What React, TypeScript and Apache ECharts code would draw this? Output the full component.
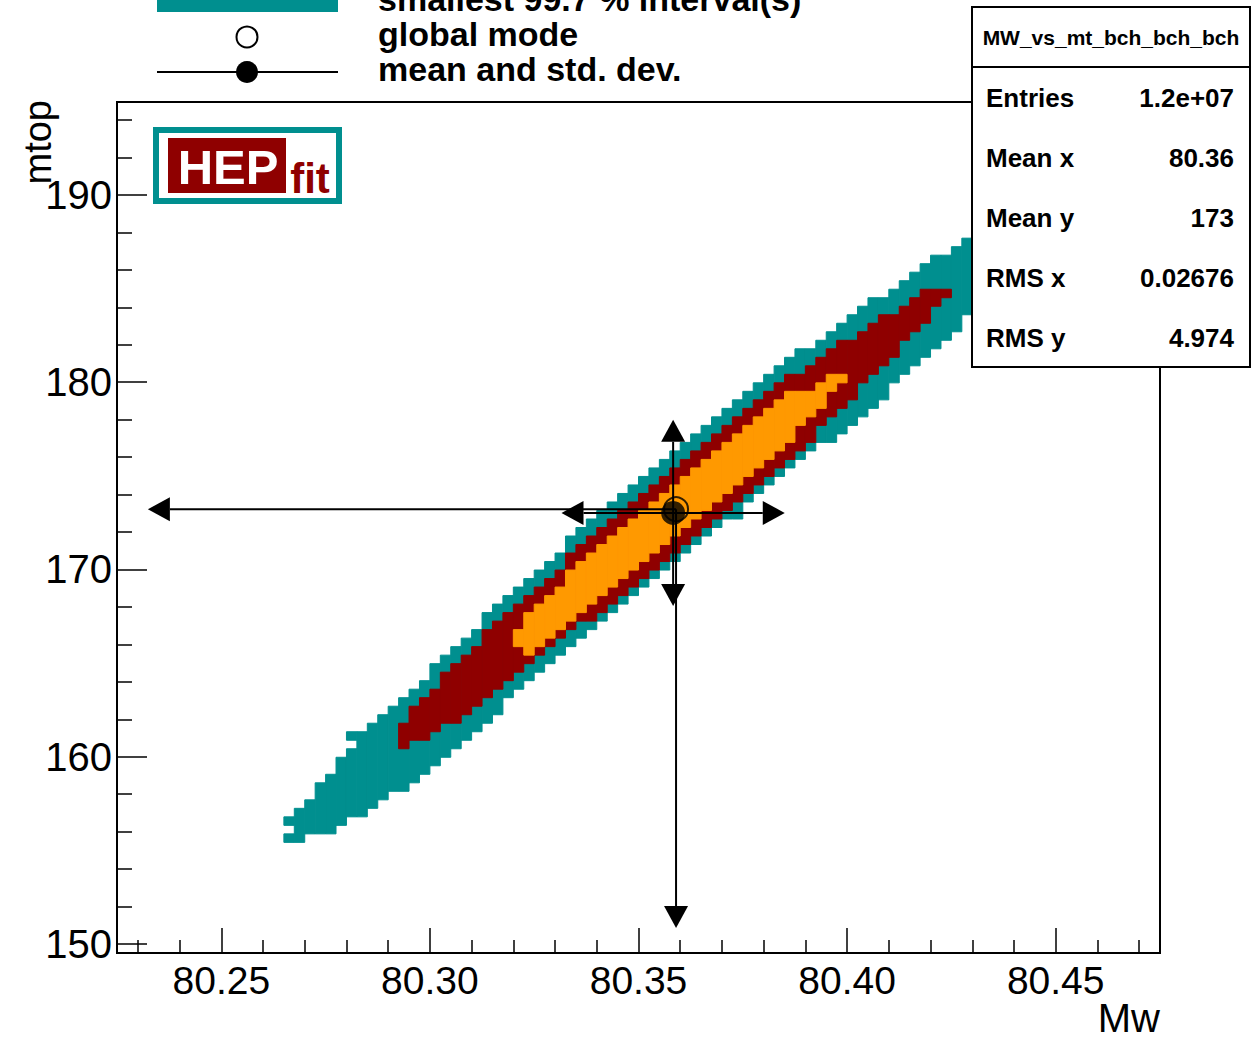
import React, { useEffect, useRef } from "react";
import * as echarts from "echarts";

// ---- axis ranges (100 x 100 bins) ----
const X_MIN = 80.225;
const X_MAX = 80.475;
const Y_MIN = 149.52;
const Y_MAX = 194.965;
const N_BINS = 100;

// ---- tick values ----
const X_MAJOR = [80.25, 80.3, 80.35, 80.4, 80.45];
const X_MINOR = [80.23, 80.24, 80.26, 80.27, 80.28, 80.29, 80.31, 80.32, 80.33, 80.34, 80.36, 80.37, 80.38, 80.39, 80.41, 80.42, 80.43, 80.44, 80.46, 80.47];
const Y_MAJOR = [150, 160, 170, 180, 190];
const Y_MINOR = [152, 154, 156, 158, 162, 164, 166, 168, 172, 174, 176, 178, 182, 184, 186, 188, 192, 194];

// ---- histogram regions, per x-bin column (first column = FIRST_COL), y-bin indices inclusive ----
const FIRST_COL = 16;
//                 16  17  18  19  20  21  22  23  24  25  26  27  28  29  30  31  32  33  34  35  36  37  38  39  40  41  42  43  44  45  46  47  48  49  50  51  52  53  54  55  56  57  58  59  60  61  62  63  64  65  66  67  68  69  70  71  72  73  74  75  76  77  78  79  80  81  82
const TEAL_LO =   [15, 13, 14, 14, 14, 15, 16, 16, 17, 18, 19, 19, 20, 21, 22, 23, 24, 25, 26, 27, 28, 30, 31, 32, 33, 34, 35, 36, 37, 38, 39, 40, 41, 42, 43, 44, 45, 46, 47, 48, 49, 50, 51, 51, 53, 54, 55, 56, 57, 58, 59, 60, 60, 61, 62, 63, 64, 65, 67, 68, 69, 70, 71, 72, 73, 75, 76];
const TEAL_HI =   [15, 16, 17, 19, 20, 22, 23, 25, 26, 27, 28, 29, 30, 31, 33, 34, 35, 36, 37, 39, 40, 41, 42, 43, 44, 45, 46, 48, 49, 50, 51, 52, 53, 54, 55, 56, 57, 58, 59, 60, 61, 62, 63, 64, 65, 66, 67, 68, 69, 70, 70, 71, 72, 73, 74, 75, 76, 76, 77, 78, 79, 80, 81, 81, 82, 83, 84];
const RED_LO =    [null, null, null, null, null, null, null, null, null, null, null, 24, 25, 25, 26, 27, 27, 28, 29, 30, 31, 32, 33, 34, 35, 36, 37, 38, 39, 39, 40, 41, 42, 43, 44, 45, 46, 47, 48, 49, 50, 51, 52, 53, 54, 55, 56, 57, 58, 59, 60, 62, 63, 64, 65, 67, 68, 69, 70, 72, 73, 74, 76, 77, null, null, null];
const RED_HI =    [null, null, null, null, null, null, null, null, null, null, null, 26, 28, 29, 30, 32, 33, 34, 35, 37, 38, 39, 40, 41, 42, 43, 44, 46, 47, 48, 49, 50, 51, 52, 53, 54, 55, 56, 57, 58, 59, 60, 61, 62, 63, 64, 65, 66, 67, 67, 68, 69, 70, 71, 71, 72, 73, 74, 74, 75, 76, 77, 77, 77, null, null, null];
const ORANGE_LO = [null, null, null, null, null, null, null, null, null, null, null, null, null, null, null, null, null, null, null, null, null, null, 36, 35, 36, 37, 38, 39, 40, 41, 42, 43, 44, 45, 46, 47, 48, 49, 50, 51, 52, 53, 54, 55, 56, 57, 58, 59, 60, 62, 63, 64, 66, 67, null, null, null, null, null, null, null, null, null, null, null, null, null];
const ORANGE_HI = [null, null, null, null, null, null, null, null, null, null, null, null, null, null, null, null, null, null, null, null, null, null, 37, 39, 40, 41, 42, 44, 45, 46, 47, 48, 49, 50, 51, 52, 53, 54, 55, 56, 57, 58, 59, 60, 61, 62, 63, 64, 65, 65, 65, 66, 67, 67, null, null, null, null, null, null, null, null, null, null, null, null, null];
// isolated teal bins [column, row]
const TEAL_EXTRA = [[16, 13], [22, 25]];

// ---- summary statistics ----
const MEAN = [80.3583, 173.02];
const STD = [0.02676, 4.974];
const MODE = [80.359, 173.22];
const MODE_LIMIT = [80.2324, 150.86];
const STATS_TITLE = "MW_vs_mt_bch_bch_bch";
const STATS_LABELS = ["Entries", "Mean x", "Mean y", "RMS x", "RMS y"];
const STATS_VALUES = ["1.2e+07", "80.36", "173", "0.02676", "4.974"];
const LEGEND_LABELS = ["smallest 99.7 % interval(s)", "global mode", "mean and std. dev."];

const TEAL = "#008f8f";
const DARK_RED = "#8f0000";
const ORANGE = "#ff9900";
const FONT = '"Liberation Sans", Arial, Helvetica, sans-serif';

const X_BIN = (X_MAX - X_MIN) / N_BINS;
const Y_BIN = (Y_MAX - Y_MIN) / N_BINS;

function cell(c: number, lo: number, hi: number) {
  return [X_MIN + c * X_BIN, X_MIN + (c + 1) * X_BIN, Y_MIN + lo * Y_BIN, Y_MIN + (hi + 1) * Y_BIN];
}

function runs(lo: (number | null)[], hi: (number | null)[], extra: number[][] = []) {
  const out: number[][] = [];
  lo.forEach((l, i) => {
    const h = hi[i];
    if (l == null || h == null) return;
    out.push(cell(FIRST_COL + i, l, h));
  });
  extra.forEach(([c, r]) => out.push(cell(c, r, r)));
  return out;
}

function cellSeries(name: string, data: number[][], color: string, z: number) {
  return {
    type: "custom",
    name,
    z,
    clip: true,
    data,
    renderItem: (_p: any, api: any) => {
      const a = api.coord([api.value(0), api.value(3)]);
      const b = api.coord([api.value(1), api.value(2)]);
      return {
        type: "rect",
        shape: { x: a[0], y: a[1], width: b[0] - a[0], height: b[1] - a[1] },
        style: { fill: color, stroke: color, lineWidth: 1 },
      };
    },
  };
}

export default function App() {
  const ref = useRef<HTMLDivElement>(null);
  useEffect(() => {
    document.body.style.margin = "0";
    const chart = echarts.init(ref.current!, undefined, { renderer: "svg" });

    const arrows = [
      [MEAN[0], MEAN[1], MEAN[0] - STD[0], MEAN[1]],
      [MEAN[0], MEAN[1], MEAN[0] + STD[0], MEAN[1]],
      [MEAN[0], MEAN[1], MEAN[0], MEAN[1] + STD[1]],
      [MEAN[0], MEAN[1], MEAN[0], MEAN[1] - STD[1]],
      [MODE[0], MODE[1], MODE_LIMIT[0], MODE[1]],
      [MODE[0], MODE[1], MODE[0], MODE_LIMIT[1]],
    ];

    const tickStyle = { color: "#000", width: 1.5 };
    const legendY = [-1, 34, 69];

    const graphic: any[] = [
      // legend
      { type: "rect", z: 50, shape: { x: 157, y: -10, width: 181, height: 22 }, style: { fill: TEAL } },
      { type: "circle", z: 50, shape: { cx: 247, cy: 37, r: 10.5 }, style: { fill: "#fff", stroke: "#000", lineWidth: 2 } },
      { type: "line", z: 50, shape: { x1: 157, y1: 72, x2: 338, y2: 72 }, style: { stroke: "#000", lineWidth: 2 } },
      { type: "circle", z: 50, shape: { cx: 247, cy: 72, r: 11 }, style: { fill: "#000" } },
      ...LEGEND_LABELS.map((t, i) => ({
        type: "text", z: 50, x: 378, y: legendY[i],
        style: { text: t, fill: "#000", fontFamily: FONT, fontWeight: "bold", fontSize: 34, align: "left", verticalAlign: "middle" },
      })),
      // HEPfit logo
      { type: "rect", z: 50, shape: { x: 156, y: 130, width: 183, height: 71 }, style: { fill: "#fff", stroke: TEAL, lineWidth: 6 } },
      { type: "rect", z: 51, shape: { x: 168, y: 138, width: 118, height: 55 }, style: { fill: DARK_RED } },
      { type: "text", z: 52, x: 228, y: 167, style: { text: "HEP", fill: "#fff", fontFamily: FONT, fontWeight: "bold", fontSize: 49, align: "center", verticalAlign: "middle" } },
      { type: "text", z: 52, x: 310, y: 178, style: { text: "fit", fill: DARK_RED, fontFamily: FONT, fontWeight: "bold", fontSize: 42, align: "center", verticalAlign: "middle" } },
      // axis titles
      { type: "text", z: 50, x: 1160, y: 1018, style: { text: "Mw", fill: "#000", fontFamily: FONT, fontSize: 40, align: "right", verticalAlign: "middle" } },
      { type: "text", z: 50, x: 38, y: 100, rotation: Math.PI / 2, style: { text: "mtop", fill: "#000", fontFamily: FONT, fontSize: 38, align: "right", verticalAlign: "middle" } },
      // stats box
      { type: "rect", z: 100, shape: { x: 972, y: 7, width: 278, height: 360 }, style: { fill: "#fff", stroke: "#000", lineWidth: 2 } },
      { type: "line", z: 101, shape: { x1: 972, y1: 67, x2: 1250, y2: 67 }, style: { stroke: "#000", lineWidth: 2 } },
      { type: "text", z: 101, x: 1111, y: 37, style: { text: STATS_TITLE, fill: "#000", fontFamily: FONT, fontWeight: "bold", fontSize: 21, align: "center", verticalAlign: "middle" } },
      ...STATS_LABELS.map((t, i) => ({
        type: "text", z: 101, x: 986, y: 98 + 60 * i,
        style: { text: t, fill: "#000", fontFamily: FONT, fontWeight: "bold", fontSize: 26, align: "left", verticalAlign: "middle" },
      })),
      ...STATS_VALUES.map((t, i) => ({
        type: "text", z: 101, x: 1234, y: 98 + 60 * i,
        style: { text: t, fill: "#000", fontFamily: FONT, fontWeight: "bold", fontSize: 26, align: "right", verticalAlign: "middle" },
      })),
    ];

    chart.setOption({
      animation: false,
      backgroundColor: "#fff",
      grid: { left: 117, top: 102, width: 1043, height: 851, show: true, borderColor: "#000", borderWidth: 2, backgroundColor: "transparent" },
      xAxis: [
        {
          type: "value", min: X_MIN, max: X_MAX, position: "bottom",
          axisLine: { show: true, lineStyle: { color: "#000", width: 2 } },
          axisTick: { show: true, inside: true, length: 25, customValues: X_MAJOR, lineStyle: tickStyle },
          axisLabel: { customValues: X_MAJOR, formatter: (v: number) => v.toFixed(2), color: "#000", fontFamily: FONT, fontSize: 39, lineHeight: 39, margin: 8 },
          splitLine: { show: false },
        },
        {
          type: "value", min: X_MIN, max: X_MAX, position: "bottom", offset: 0,
          axisLine: { show: false },
          axisTick: { show: true, inside: true, length: 13, customValues: X_MINOR, lineStyle: tickStyle },
          axisLabel: { show: false },
          splitLine: { show: false },
        },
      ],
      yAxis: [
        {
          type: "value", min: Y_MIN, max: Y_MAX, position: "left",
          axisLine: { show: true, lineStyle: { color: "#000", width: 2 } },
          axisTick: { show: true, inside: true, length: 30, customValues: Y_MAJOR, lineStyle: tickStyle },
          axisLabel: { customValues: Y_MAJOR, formatter: (v: number) => String(Math.round(v)), color: "#000", fontFamily: FONT, fontSize: 40, margin: 5 },
          splitLine: { show: false },
        },
        {
          type: "value", min: Y_MIN, max: Y_MAX, position: "left", offset: 0,
          axisLine: { show: false },
          axisTick: { show: true, inside: true, length: 15, customValues: Y_MINOR, lineStyle: tickStyle },
          axisLabel: { show: false },
          splitLine: { show: false },
        },
      ],
      series: [
        cellSeries("99.7%", runs(TEAL_LO, TEAL_HI, TEAL_EXTRA), TEAL, 2),
        cellSeries("95.4%", runs(RED_LO, RED_HI), DARK_RED, 3),
        cellSeries("68.3%", runs(ORANGE_LO, ORANGE_HI), ORANGE, 4),
        {
          type: "custom", name: "errors", z: 5, clip: false, data: arrows,
          renderItem: (_p: any, api: any) => {
            const p1 = api.coord([api.value(0), api.value(1)]);
            const p2 = api.coord([api.value(2), api.value(3)]);
            const dx = p2[0] - p1[0], dy = p2[1] - p1[1];
            const len = Math.hypot(dx, dy) || 1;
            const ux = dx / len, uy = dy / len;
            const L = 22, W = 12;
            const bx = p2[0] - ux * L, by = p2[1] - uy * L;
            return {
              type: "group",
              children: [
                { type: "line", shape: { x1: p1[0], y1: p1[1], x2: bx, y2: by }, style: { stroke: "#000", lineWidth: 2 } },
                { type: "polygon", shape: { points: [[p2[0], p2[1]], [bx - uy * W, by + ux * W], [bx + uy * W, by - ux * W]] }, style: { fill: "#000" } },
              ],
            };
          },
        },
        { type: "scatter", name: "mean", z: 6, symbol: "circle", symbolSize: 24, data: [MEAN], itemStyle: { color: "#000" } },
        { type: "scatter", name: "global mode", z: 7, symbol: "circle", symbolSize: 24, data: [MODE], itemStyle: { color: "none", borderColor: "#000", borderWidth: 2 } },
      ],
      graphic,
    });
    return () => chart.dispose();
  }, []);
  return <div ref={ref} style={{ width: 1258, height: 1039 }} />;
}
